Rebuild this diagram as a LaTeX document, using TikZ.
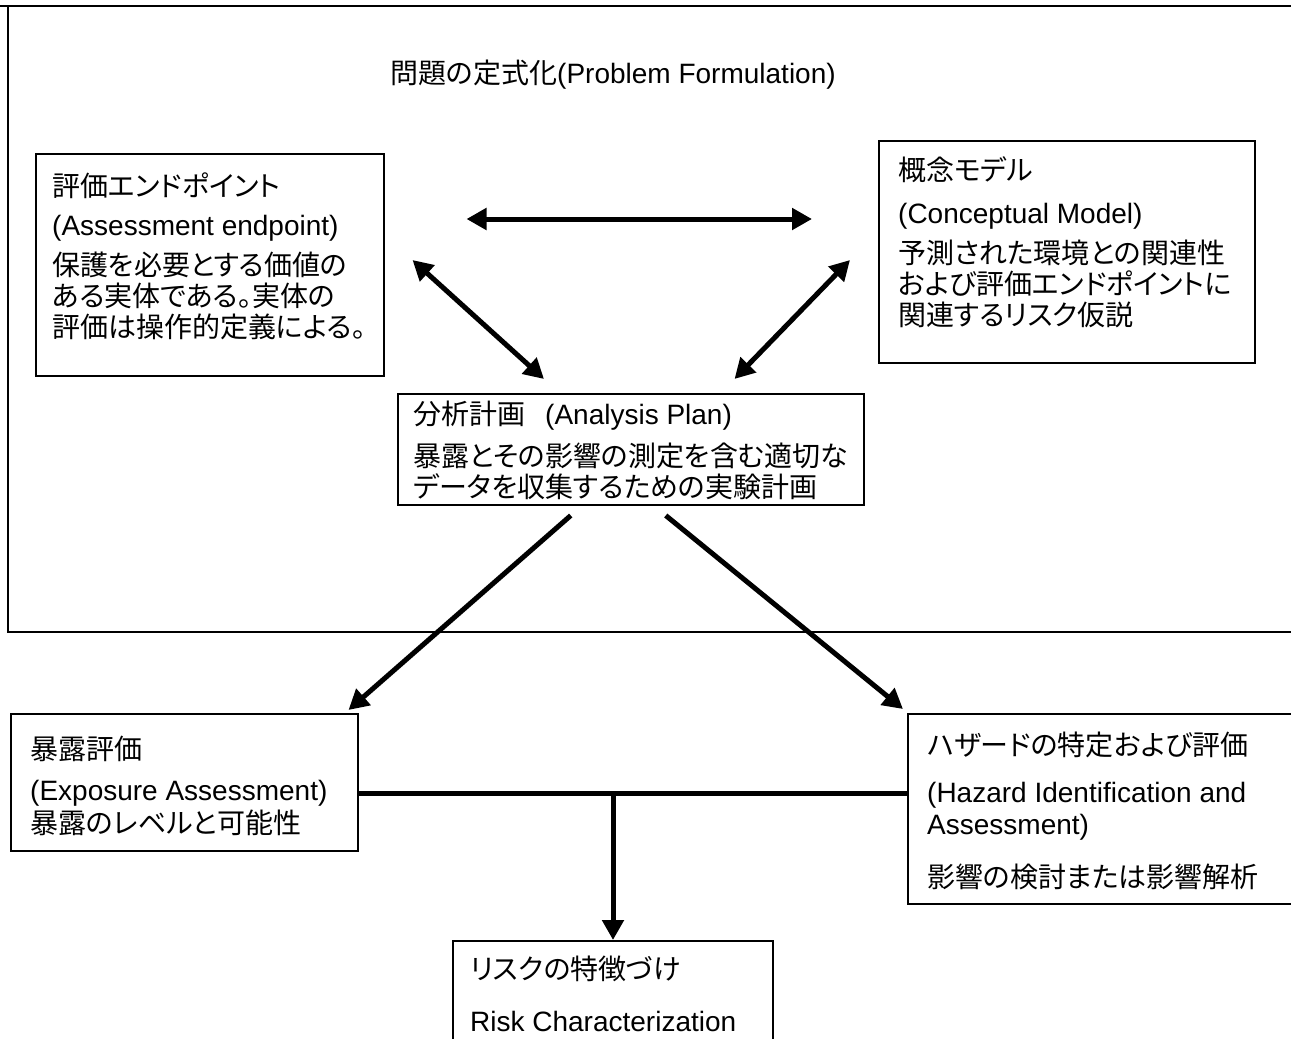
\documentclass[tikz,border=0pt]{standalone}
\usepackage{fontspec}
\setmainfont{Liberation Sans}
\newfontfamily\jpfont{Noto Sans CJK JP}[RawFeature=+palt]
\newcommand{\jp}[1]{{\jpfont #1}}
\usetikzlibrary{arrows.meta,calc}

\tikzset{
  frame/.style={draw, line width=1.5pt, inner sep=0pt, anchor=north west},
  boxtext/.style={anchor=north west, inner sep=0pt, align=left,
    font=\fontsize{28}{31}\selectfont},
  dblarrow/.style={line width=5pt,
    {Triangle[length=20pt,width=21pt]}-{Triangle[length=20pt,width=21pt]}},
  onearrow/.style={line width=5pt, -{Triangle[length=20pt,width=21pt]}},
  bar/.style={line width=5pt}
}

\begin{document}
\begin{tikzpicture}[x=1pt,y=-1pt]
\clip (0,0) rectangle (1291,1039);
\fill[white] (0,0) rectangle (1291,1039);

% problem formulation frame
\draw[line width=2pt] (1300,6) -- (0,6);
\draw[line width=2pt] (8,6) -- (8,632) -- (1300,632);
\node[font=\fontsize{28}{32}\selectfont] (title) at (613,75) {\jp{問題の定式化}(Problem Formulation)};

% boxes
\node[frame, minimum width=348pt, minimum height=222pt] (endpt) at (35,153) {};
\node[boxtext] (endpt-t) at ($(endpt.north west)+(17,20)$) {\jp{評価エンドポイント}\\[8pt]
  (Assessment endpoint)\\[9pt]
  \jp{保護を必要とする価値の}\\
  \jp{ある実体である。実体の}\\
  \jp{評価は操作的定義による。}};

\node[frame, minimum width=376pt, minimum height=222pt] (model) at (878,140) {};
\node[boxtext] (model-t) at ($(model.north west)+(20,16)$) {\jp{概念モデル}\\[12pt]
  (Conceptual Model)\\[9pt]
  \jp{予測された環境との関連性}\\
  \jp{および評価エンドポイントに}\\
  \jp{関連するリスク仮説}};

\node[frame, minimum width=466pt, minimum height=111pt] (plan) at (397,393) {};
\node[boxtext] (plan-t) at ($(plan.north west)+(16,8)$) {\jp{分析計画}\hspace{20pt}(Analysis Plan)\\[11pt]
  \jp{暴露とその影響の測定を含む適切な}\\
  \jp{データを収集するための実験計画}};

\node[frame, minimum width=347pt, minimum height=137pt] (expo) at (10,713) {};
\node[boxtext] (expo-t) at ($(expo.north west)+(20,23)$) {\jp{暴露評価}\\[10pt]
  (Exposure Assessment)\\[2pt]
  \jp{暴露のレベルと可能性}};

\node[frame, minimum width=393pt, minimum height=190pt] (hazard) at (907,713) {};
\node[boxtext] (hazard-t) at ($(hazard.north west)+(20,19)$) {\jp{ハザードの特定および評価}\\[16pt]
  (Hazard Identification and\\[1pt]
  Assessment)\\[22pt]
  \jp{影響の検討または影響解析}};

\node[frame, minimum width=320pt, minimum height=110pt] (risk) at (452,940) {};
\node[boxtext] (risk-t) at ($(risk.north west)+(18,16)$) {\jp{リスクの特徴づけ}\\[21pt]
  Risk Characterization};

% arrows
\draw[dblarrow] ($(endpt.north east)+(82,66)$) -- ($(model.north west)+(-66,79)$);
\draw[dblarrow] ($(endpt.north east)+(28,107)$) -- ($(plan.north west)+(147,-14)$);
\draw[dblarrow] ($(model.north west)+(-28,120)$) -- ($(plan.north east)+(-130,-14)$);
\draw[onearrow] ($(plan.south)+(-60,10)$) -- ($(expo.north east)+(-10,-3)$);
\draw[onearrow] ($(plan.south)+(35,10)$) -- ($(hazard.north west)+(-4,-4)$);

\coordinate (join) at (613,793);
\draw[bar] (expo.east |- join) -- (hazard.west |- join);
\draw[onearrow] (join) -- (risk.north -| join);
\end{tikzpicture}
\end{document}
